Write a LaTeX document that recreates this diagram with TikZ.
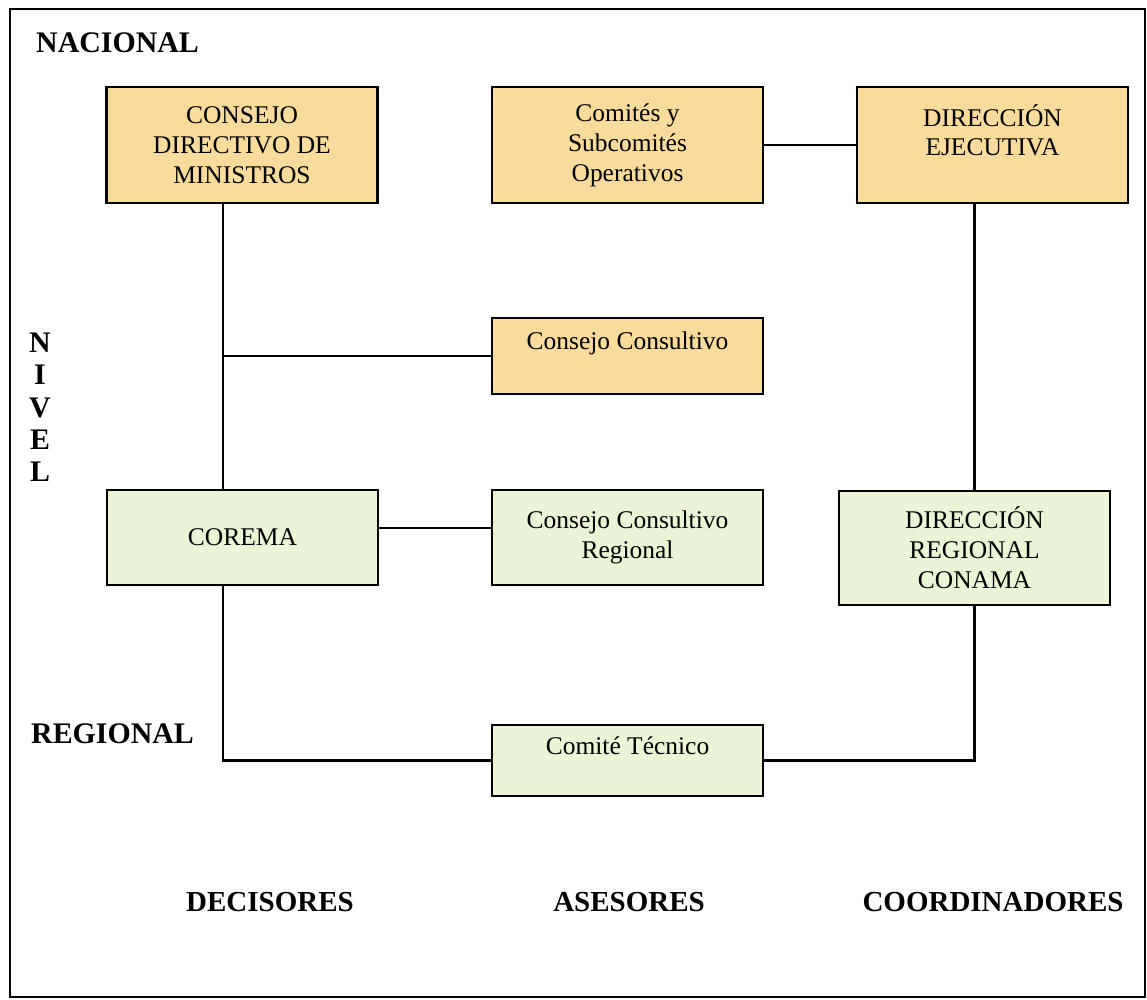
\documentclass[tikz,border=0pt]{standalone}
\usepackage{fontspec}
\setmainfont{Liberation Serif}
\usepackage{tikz}
\definecolor{nacbox}{RGB}{249,219,155}
\definecolor{regbox}{RGB}{233,245,212}
\tikzset{
  unit/.style={draw=black, line width=1.3pt, align=center, inner sep=2pt,
    minimum width=5.42cm, font=\fontsize{14.5}{17}\selectfont},
  nac/.style={unit, fill=nacbox},
  reg/.style={unit, fill=regbox},
  level/.style={font=\fontsize{17}{18.4}\selectfont\bfseries},
  role/.style={font=\fontsize{16.5}{18}\selectfont\bfseries},
  link/.style={line width=1.5pt}
}

\begin{document}
\begin{tikzpicture}
                \useasboundingbox (0,0) rectangle (22.94,20);
                \draw[line width=1pt] (0.2,0.06) rectangle (22.9,19.82);
                % niveles
                \node[level, anchor=west] (nac) at (0.6,19.15) {NACIONAL};
                \node[level, align=center] (niv) at (0.8,11.85) {N\\I\\V\\E\\L};
                \node[level, anchor=west] (reg) at (0.5,5.32) {REGIONAL};
                % unidades
                \node[nac, minimum height=2.32cm] (cdm) at (4.84,17.1) {CONSEJO\\DIRECTIVO DE\\MINISTROS};
                \node[nac, minimum height=2.32cm] (cso) at (12.55,17.1) {Comités y\\Subcomités\\Operativos};
                \node[nac, minimum height=2.32cm] (dej) at (19.85,17.1) {DIRECCIÓN\\EJECUTIVA\\\mbox{}};
                \node[nac, minimum height=1.52cm] (cc) at (12.55,12.88) {Consejo Consultivo\\\mbox{}};
                \node[reg, minimum height=1.9cm] (corema) at (4.85,9.25) {COREMA};
                \node[reg, minimum height=1.9cm] (ccr) at (12.55,9.25) {Consejo Consultivo\\Regional};
                \node[reg, minimum height=2.28cm] (drc) at (19.49,9.04) {DIRECCIÓN\\REGIONAL\\CONAMA};
                \node[reg, minimum height=1.42cm] (ct) at (12.55,4.79) {Comité Técnico\\\mbox{}};
                % roles
                \node[role] (dec) at (5.4,1.96) {DECISORES};
                \node[role] (ase) at (12.58,1.96) {ASESORES};
                \node[role] (coo) at (19.86,1.96) {COORDINADORES};
                % conexiones
                \coordinate (spine) at (4.46,0);
                \draw[link] (cdm.south -| spine) -- (corema.north -| spine);
                \draw[link] (cc.west) -- (cc.west -| spine);
                \draw[link] (cso.east) -- (dej.west);
                \draw[link] (drc.north) -- (drc.north |- dej.south);
                \draw[link] ([yshift=0.19cm]corema.east) -- ([yshift=0.19cm]ccr.west);
                \draw[link] (corema.south -| spine) |- (ct.west);
                \draw[link] (ct.east) -| (drc.south);
            \end{tikzpicture}
\end{document}
